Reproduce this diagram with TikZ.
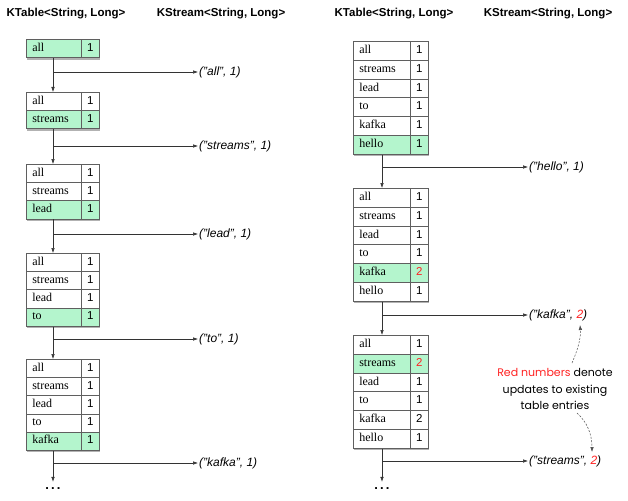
\documentclass[tikz,border=0pt]{standalone}
\usepackage{fontspec}
\setmainfont{Liberation Serif}
\setsansfont{Liberation Sans}
\newfontfamily\notefont{Poppins}
\usetikzlibrary{arrows.meta,shadows}
\definecolor{mint}{RGB}{180,245,205}
\definecolor{redn}{RGB}{255,35,35}
\definecolor{edgec}{RGB}{95,95,95}
\newcommand\ktab[7]{% #1 name, #2 x, #3 ytop, #4 rows, #5 rowh, #6 keyw, #7 list
  \pgfmathsetlengthmacro\tabw{#6+18}
  \pgfmathsetlengthmacro\tabh{#4*#5}
  \pgfmathsetlengthmacro\keytw{#6-12}
  \node[tabframe, minimum width=\tabw, minimum height=\tabh] (#1) at (#2,#3) {};
  \foreach \k/\v/\f/\c [count=\i from 0] in {#7} {
    \node[keycell, fill=\f, minimum width=#6, minimum height=#5, text width=\keytw] (#1-k\i) at (#2, #3+\i*#5) {\k};
    \node[valcell, fill=\f, minimum width=18, minimum height=#5, text=\c] (#1-v\i) at (#2+#6, #3+\i*#5) {\v};
  }
}
\begin{document}
\begin{tikzpicture}[x=1pt,y=-1pt,
  hdr/.style={font=\sffamily\bfseries\fontsize{11.5}{13}\selectfont, inner sep=0},
  tabframe/.style={draw=edgec, fill=white, line width=0.7pt, anchor=north west, inner sep=0,
    drop shadow={shadow xshift=1pt, shadow yshift=-2pt, opacity=0.3, fill=black}},
  keycell/.style={draw=edgec, line width=0.5pt, font=\fontsize{12}{13}\selectfont, inner xsep=6pt, inner ysep=0,
    text height=1.6ex, text depth=0.4ex, align=left, anchor=north west},
  valcell/.style={draw=edgec, line width=0.5pt, font=\sffamily\fontsize{11.5}{13}\selectfont, inner sep=0,
    text height=1.6ex, text depth=0.4ex, anchor=north west},
  evt/.style={font=\sffamily\itshape\fontsize{12}{14}\selectfont, anchor=west, inner sep=1pt},
  flow/.style={-{Latex[length=5pt,width=3.5pt]}, line width=0.5pt, draw=black!80},
  notearrow/.style={-{Latex[length=5pt,width=3.5pt]}, line width=0.5pt, draw=black!70, dash pattern=on 2pt off 1.5pt},
  dots/.style={font=\sffamily\bfseries\fontsize{13}{13}\selectfont, inner sep=0}
]
\useasboundingbox (0,0) rectangle (628,500);
\fill[white] (0,0) rectangle (628,500);

% headers
\node[hdr] (h1) at (66,14) {KTable<String, Long>};
\node[hdr] (h2) at (221,14) {KStream<String, Long>};
\node[hdr] (h3) at (394,14) {KTable<String, Long>};
\node[hdr] (h4) at (548,14) {KStream<String, Long>};

% left column tables
\ktab{L1}{26}{39}{1}{18.2}{55}{all/1/mint/black}
\ktab{L2}{26}{92}{2}{18.2}{55}{all/1/white/black,streams/1/mint/black}
\ktab{L3}{26}{164}{3}{18.2}{55}{all/1/white/black,streams/1/white/black,lead/1/mint/black}
\ktab{L4}{26}{253}{4}{18.2}{55}{all/1/white/black,streams/1/white/black,lead/1/white/black,to/1/mint/black}
\ktab{L5}{26}{359}{5}{18.2}{55}{all/1/white/black,streams/1/white/black,lead/1/white/black,to/1/white/black,kafka/1/mint/black}

% right column tables
\ktab{R1}{353}{41}{6}{18.8}{57}{all/1/white/black,streams/1/white/black,lead/1/white/black,to/1/white/black,kafka/1/white/black,hello/1/mint/black}
\ktab{R2}{353}{188}{6}{18.8}{57}{all/1/white/black,streams/1/white/black,lead/1/white/black,to/1/white/black,kafka/2/mint/redn,hello/1/white/black}
\ktab{R3}{353}{335}{6}{18.8}{57}{all/1/white/black,streams/2/mint/redn,lead/1/white/black,to/1/white/black,kafka/2/white/black,hello/1/white/black}

% stream events
\node[evt] (e1) at (198,72) {("all", 1)};
\node[evt] (e2) at (198,146) {("streams", 1)};
\node[evt] (e3) at (198,234) {("lead", 1)};
\node[evt] (e4) at (198,339) {("to", 1)};
\node[evt] (e5) at (198,463) {("kafka", 1)};
\node[evt] (f1) at (528,167) {("hello", 1)};
\node[evt] (f2) at (528,315) {("kafka", \textcolor{redn}{2})};
\node[evt] (f3) at (528,461) {("streams", \textcolor{redn}{2})};

% ellipses
\node[dots] (ld) at (53,489) {.\,.\,.};
\node[dots] (rd) at (382,489) {.\,.\,.};

% left flow
\coordinate (a1) at ([xshift=27pt]L1.south west);
\coordinate (a2) at ([xshift=27pt]L2.south west);
\coordinate (a3) at ([xshift=27pt]L3.south west);
\coordinate (a4) at ([xshift=27pt]L4.south west);
\coordinate (a5) at ([xshift=27pt]L5.south west);
\draw[flow] (a1) -- (a1 |- L2.north);
\draw[flow] (a2) -- (a2 |- L3.north);
\draw[flow] (a3) -- (a3 |- L4.north);
\draw[flow] (a4) -- (a4 |- L5.north);
\draw[flow] (a5) -- ([yshift=6pt]ld.north);
\draw[flow] (a1 |- e1.west) -- (e1.west);
\draw[flow] (a2 |- e2.west) -- (e2.west);
\draw[flow] (a3 |- e3.west) -- (e3.west);
\draw[flow] (a4 |- e4.west) -- (e4.west);
\draw[flow] (a5 |- e5.west) -- (e5.west);

% right flow
\coordinate (b1) at ([xshift=29pt]R1.south west);
\coordinate (b2) at ([xshift=29pt]R2.south west);
\coordinate (b3) at ([xshift=29pt]R3.south west);
\draw[flow] (b1) -- (b1 |- R2.north);
\draw[flow] (b2) -- (b2 |- R3.north);
\draw[flow] (b3) -- ([yshift=6pt]rd.north);
\draw[flow] (b1 |- f1.west) -- (f1.west);
\draw[flow] (b2 |- f2.west) -- (f2.west);
\draw[flow] (b3 |- f3.west) -- (f3.west);

% annotation
\node[font=\notefont\fontsize{11}{16.5}\selectfont, align=center, inner sep=1pt] (note) at (555,389)
  {\textcolor{redn}{Red numbers} denote\\updates to existing\\table entries};
\coordinate (na) at (572,363);
\coordinate (nb) at (580,325);
\coordinate (nc) at (577,413);
\coordinate (nd) at (592,452);
\draw[notearrow] (na) .. controls (578,349) and (581,338) .. (nb);
\draw[notearrow] (nc) .. controls (587,422) and (592,434) .. (nd);
\end{tikzpicture}
\end{document}
